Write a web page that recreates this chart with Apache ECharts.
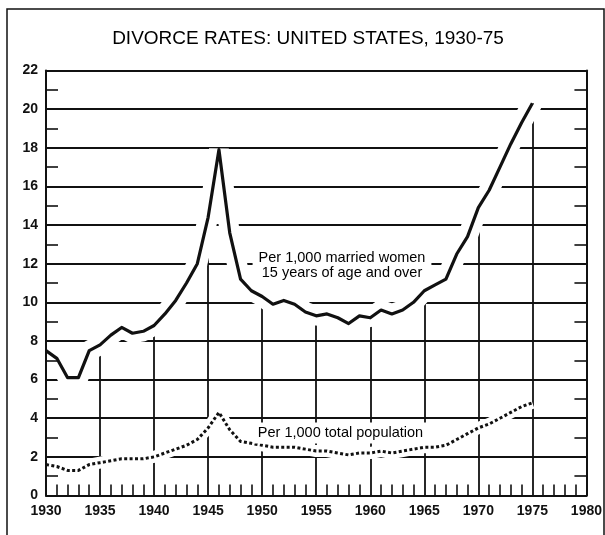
<!DOCTYPE html>
<html>
<head>
<meta charset="utf-8">
<script src="https://cdn.jsdelivr.net/npm/echarts@6/dist/echarts.min.js"></script>
<style>
  html, body { margin: 0; padding: 0; background: #ffffff; }
  #chart { width: 605px; height: 535px; }
</style>
</head>
<body>
<div id="chart"></div>
<script>
// ---- Data ----
const years = [1930,1931,1932,1933,1934,1935,1936,1937,1938,1939,
               1940,1941,1942,1943,1944,1945,1946,1947,1948,1949,
               1950,1951,1952,1953,1954,1955,1956,1957,1958,1959,
               1960,1961,1962,1963,1964,1965,1966,1967,1968,1969,
               1970,1971,1972,1973,1974,1975];

// Divorces per 1,000 married women 15 years of age and over
const marriedWomenRate = [7.5,7.1,6.1,6.1,7.5,7.8,8.3,8.7,8.4,8.5,
                          8.8,9.4,10.1,11.0,12.0,14.4,17.9,13.6,11.2,10.6,
                          10.3,9.9,10.1,9.9,9.5,9.3,9.4,9.2,8.9,9.3,
                          9.2,9.6,9.4,9.6,10.0,10.6,10.9,11.2,12.5,13.4,
                          14.9,15.8,17.0,18.2,19.3,20.3];

// Divorces per 1,000 total population
const totalPopulationRate = [1.6,1.5,1.3,1.3,1.6,1.7,1.8,1.9,1.9,1.9,
                             2.0,2.2,2.4,2.6,2.9,3.5,4.3,3.4,2.8,2.7,
                             2.6,2.5,2.5,2.5,2.4,2.3,2.3,2.2,2.1,2.2,
                             2.2,2.3,2.2,2.3,2.4,2.5,2.5,2.6,2.9,3.2,
                             3.5,3.7,4.0,4.3,4.6,4.8];

// Years with a vertical rule (drawn from 0 up to the married-women curve)
const ruleYears = [1935,1940,1945,1950,1955,1960,1965,1970,1975];

const titleText = 'DIVORCE RATES: UNITED STATES, 1930-75';
const marriedLabel = ['Per 1,000 married women', '15 years of age and over'];
const populationLabel = 'Per 1,000 total population';

// ---- Chart ----
const ink = '#111111';
const font = "'Liberation Sans', Arial, Helvetica, sans-serif";

const marriedData = years.map((y, i) => [y, marriedWomenRate[i]]);
const populationData = years.map((y, i) => [y, totalPopulationRate[i]]);
const ruleData = ruleYears.map(y => [
  { coord: [y, 0] },
  { coord: [y, marriedWomenRate[years.indexOf(y)]] }
]);

const chart = echarts.init(document.getElementById('chart'), null, { renderer: 'canvas' });

const yAxisCommon = {
  type: 'value', min: 0, max: 22, interval: 2,
  axisLine: { show: true, onZero: false, lineStyle: { color: ink, width: 2 } },
  axisTick: { show: false, inside: true },
  minorTick: { show: true, splitNumber: 2, length: 12, lineStyle: { color: ink, width: 1.6 } },
  minorSplitLine: { show: false }
};

chart.setOption({
  animation: false,
  backgroundColor: '#ffffff',
  title: {
    text: titleText,
    left: 308, top: 29, textAlign: 'center', padding: 0,
    textStyle: { fontFamily: font, fontSize: 19, fontWeight: 'normal', color: '#000' }
  },
  grid: { left: 46, right: 16, top: 70.5, bottom: 39.5, containLabel: false },
  xAxis: {
    type: 'value', min: 1930, max: 1980, interval: 5, z: 10,
    axisLine: { show: true, onZero: false, lineStyle: { color: ink, width: 2 } },
    axisTick: { show: false, inside: true },
    minorTick: { show: true, splitNumber: 5, length: 11, lineStyle: { color: ink, width: 1.6 } },
    splitLine: { show: false },
    minorSplitLine: { show: false },
    axisLabel: {
      margin: 9, fontSize: 14, fontWeight: 'bold', color: ink, fontFamily: font,
      formatter: v => String(v)
    }
  },
  yAxis: [
    Object.assign({}, yAxisCommon, {
      position: 'left', z: 10,
      splitLine: { show: false },
      axisLabel: { margin: 8, fontSize: 14, fontWeight: 'bold', color: ink, fontFamily: font }
    }),
    Object.assign({}, yAxisCommon, {
      position: 'right', z: 0,
      splitLine: { show: true, lineStyle: { color: ink, width: 1.8 } },
      axisLabel: { show: false }
    })
  ],
  graphic: [
    {
      type: 'rect', silent: true, z: 0,
      shape: { x: 7, y: 9, width: 597, height: 545 },
      style: { fill: null, stroke: ink, lineWidth: 1.5 }
    },
    {
      type: 'text', silent: true, z: 50,
      x: 342, y: 265.5,
      style: {
        text: marriedLabel.join('\n'),
        font: "14.5px " + font,
        lineHeight: 15,
        align: 'center', verticalAlign: 'middle',
        fill: '#000', backgroundColor: '#ffffff', padding: [3, 6]
      }
    },
    {
      type: 'text', silent: true, z: 50,
      x: 340.5, y: 433,
      style: {
        text: populationLabel,
        font: "14.5px " + font,
        align: 'center', verticalAlign: 'middle',
        fill: '#000', backgroundColor: '#ffffff', padding: [3, 5]
      }
    }
  ],
  series: [
    {
      // white halo under the married-women curve (interrupts the rules as in print)
      type: 'line', data: marriedData, symbol: 'none', silent: true, z: 2,
      lineStyle: { color: '#ffffff', width: 20 },
      markLine: {
        z: 1, silent: true, symbol: 'none',
        label: { show: false },
        lineStyle: { color: ink, width: 1.8, type: 'solid' },
        data: ruleData
      }
    },
    {
      type: 'line', data: populationData, symbol: 'none', silent: true, z: 2,
      lineStyle: { color: '#ffffff', width: 12 }
    },
    {
      name: 'Per 1,000 married women 15 years of age and over',
      type: 'line', data: marriedData, symbol: 'none', z: 3,
      lineStyle: { color: ink, width: 3.2, join: 'round' }
    },
    {
      name: 'Per 1,000 total population',
      type: 'line', data: populationData, symbol: 'none', z: 3,
      lineStyle: { color: ink, width: 3, type: [3, 2.4] }
    }
  ]
});
</script>
</body>
</html>
